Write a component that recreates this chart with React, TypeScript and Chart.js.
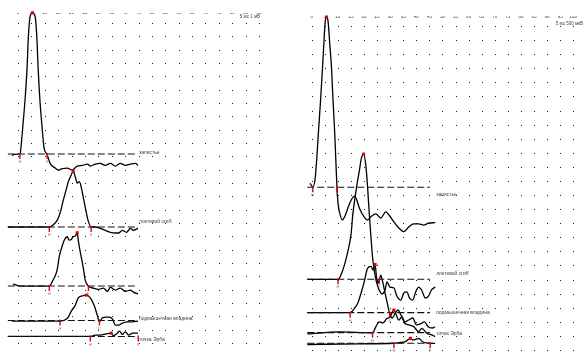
import React, { useEffect, useRef } from "react";
import { Chart, registerables } from "chart.js";

Chart.register(...registerables);

// ---------------- data ----------------
// x: latency in ms, a: amplitude in screen divisions relative to the trace baseline
const leftTickMax = 90;
const rightTickMax = 100;
const leftSweepText = "5 мс 1 мВ";
const rightSweepText = "5 мс 500 мкВ";

const siteLabels = ["запястье", "локтевой сгиб", "подмышечная впадина", "точка Эрба"];

// Left panel traces
const L1_t = [-3.8, -2.3, 0, 0.8, 1.1, 1.9, 2.6, 3.4, 3.8, 4.5, 5.4, 6.4, 7.1, 7.5, 8.2, 9.0, 9.7, 10.9, 12.0, 13.9, 15.0, 16.5, 18.4, 20.2, 22.1, 24.0, 25.9, 27.0, 28.9, 30.7, 32.6, 34.5, 36.4, 38.2, 40.1, 42.0, 43.9, 44.8];
const L1_a = [-0.8, -0.1, 0, 0.05, 0.5, 2.3, 4.0, 6.5, 8.5, 10.3, 10.6, 10.3, 8.5, 6.5, 4.0, 2.0, 0.5, -0.05, -0.7, -1.05, -1.2, -1.1, -1.05, -1.2, -0.9, -0.85, -0.75, -0.9, -0.75, -0.7, -0.85, -0.7, -0.9, -0.7, -0.85, -0.75, -0.7, -0.85];
const L2_t = [-3.8, 11.6, 13.1, 14.6, 15.8, 16.9, 18.0, 18.8, 19.9, 20.6, 21.4, 22.1, 22.9, 23.6, 24.4, 25.5, 26.3, 27.4, 28.9, 30.7, 32.6, 34.5, 36.4, 37.5, 39.0, 40.5, 42.0, 43.1, 44.8];
const L2_a = [0, 0, 0.15, 0.5, 1.1, 2.0, 2.8, 3.4, 3.9, 4.2, 3.75, 3.3, 3.4, 3.0, 2.2, 1.1, 0.4, 0, 0, -0.1, -0.25, -0.4, -0.45, -0.45, -0.25, -0.4, -0.1, -0.25, -0.1];
const L3_t = [-3.8, -1.9, 0.8, 11.6, 13.1, 14.6, 15.4, 16.5, 17.3, 18.4, 19.1, 19.9, 20.6, 21.4, 22.1, 22.5, 23.3, 24.4, 25.1, 26.3, 28.1, 30.0, 31.9, 33.4, 34.5, 36.4, 38.2, 40.1, 42.0, 43.1, 44.8];
const L3_a = [-0.1, 0.15, 0, 0, 0.45, 1.2, 2.2, 3.0, 3.45, 3.7, 3.45, 3.5, 3.7, 3.75, 4.0, 3.45, 2.5, 1.35, 0.45, 0, -0.15, -0.25, -0.15, -0.4, -0.1, -0.3, -0.15, -0.4, -0.3, -0.45, -0.6];
const L4_t = [-3.8, -2.3, 15.8, 17.6, 18.8, 19.9, 21.4, 22.5, 24.0, 25.5, 27.0, 28.5, 29.6, 30.4, 31.5, 33.0, 34.1, 35.3, 36.4, 37.5, 39.0, 40.9, 42.8, 44.8];
const L4_a = [-0.2, -0.05, -0.05, 0.05, 0.25, 0.7, 1.15, 1.7, 1.85, 1.9, 1.7, 1.1, 0.4, -0.1, 0.2, 0.25, 0.25, 0.1, -0.35, -0.35, -0.2, -0.1, -0.1, -0.05];
const L5_t = [-3.8, 27.0, 28.9, 30.7, 33.0, 34.9, 35.6, 37.1, 37.9, 39.0, 40.1, 41.3, 42.8, 44.8];
const L5_a = [0, 0, 0.1, 0.1, 0.2, 0.25, 0.05, 0.25, 0.4, 0.15, 0.35, 0.1, 0.25, 0.25];

const leftOnsets = [0.7, 11.7, 11.7, 15.7, 27.0];
const leftPeakT = [5.4, 20.6, 22.1, 25.5, 34.8];
const leftPeakA = [10.6, 4.2, 4.0, 1.9, 0.25];
const leftEnds = [10.9, 27.3, 26.3, 30.4, 44.9];

// Right panel traces
const R1_t = [-1.7, -0.6, 0.4, 1.25, 1.9, 2.5, 3.4, 4.15, 4.65, 5.15, 5.65, 6.25, 6.9, 7.55, 8.15, 8.8, 9.3, 9.65, 10.05, 10.7, 11.7, 12.6, 13.8, 15.1, 16.35, 17.1, 18.25, 20.1, 21.35, 22.65, 24.5, 26.4, 28.3, 29.55, 31.45, 33.3, 35.2, 37.1, 39.0, 40.9, 42.75, 44.65, 47.2];
const R1_a = [0.64, 0.28, 0.04, 0.52, 1.94, 3.71, 6.2, 8.56, 10.2, 11.73, 12.09, 11.8, 10.2, 8.56, 6.2, 3.85, 1.58, 0.02, -1.11, -1.82, -2.32, -2.09, -1.49, -0.9, -0.62, -0.83, -1.49, -2.11, -2.32, -2.09, -1.89, -2.18, -1.75, -1.97, -2.46, -2.89, -3.15, -2.82, -2.6, -2.6, -2.68, -2.55, -2.51];
const R2_t = [-1.7, 10.05, 11.9, 13.8, 15.1, 15.7, 17.0, 18.25, 19.0, 19.85, 20.75, 21.35, 22.0, 22.65, 23.25, 23.9, 24.65, 25.8, 26.9, 28.05, 28.8, 29.9, 31.45, 32.55, 34.1, 35.2, 36.35, 37.45, 38.6, 39.75, 40.9, 42.0, 43.5, 44.65, 45.8, 47.2];
const R2_a = [0, 0, 0.66, 1.96, 3.28, 4.57, 6.34, 7.75, 8.6, 8.89, 8.0, 6.58, 4.7, 3.02, 1.6, 0.66, -0.12, -0.76, -1.04, -0.76, -0.19, -0.55, -0.62, -1.19, -1.48, -0.97, -0.9, -1.33, -1.48, -0.9, -0.55, -0.76, -1.33, -1.19, -0.76, -0.55];
const R3_t = [-1.7, 14.7, 16.35, 17.6, 18.85, 20.1, 21.35, 22.65, 23.5, 24.25, 24.75, 25.3, 25.8, 26.4, 27.0, 28.05, 28.9, 29.8, 30.8, 31.8, 32.95, 34.1, 35.6, 37.1, 38.6, 40.1, 41.6, 43.1, 44.65, 46.15, 47.2];
const R3_a = [0, 0, 0.31, 0.67, 1.38, 2.2, 3.15, 3.28, 3.02, 3.42, 2.55, 2.08, 2.3, 2.66, 2.3, 1.38, 0.67, -0.04, -0.38, -0.09, 0.19, -0.16, -0.66, -0.52, -0.38, -0.87, -0.8, -0.66, -1.02, -1.09, -1.0];
const R4_t = [-1.7, 10.7, 23.25, 24.55, 25.8, 27.3, 28.55, 29.9, 31.45, 32.2, 33.3, 34.55, 35.6, 37.1, 39.0, 40.9, 42.1, 44.0, 45.9, 47.2];
const R4_a = [-0.09, 0.05, -0.02, 0.43, 0.76, 0.69, 0.97, 1.11, 1.61, 1.33, 0.9, 1.14, 0.67, 0.55, 0.43, 0.07, 0.31, -0.04, -0.16, -0.28];
const R5_t = [-1.7, 18.25, 31.45, 33.3, 35.85, 37.75, 38.6, 39.75, 40.9, 42.4, 43.9, 45.3, 47.2];
const R5_a = [-0.09, -0.04, 0, 0.04, 0.11, 0.35, 0.23, 0.27, 0.35, 0.11, 0.02, 0, -0.01];

const rightOnsets = [0.4, 10.05, 14.7, 23.25, 31.45];
const rightPeakT = [5.65, 19.85, 24.25, 31.45, 37.75];
const rightPeakA = [12.09, 8.89, 3.42, 1.61, 0.35];
const rightEnds = [9.65, 25.8, 29.8, null, 45.3];

// ---------------- layout ----------------
type PanelDef = {
  traces: { t: number[]; a: number[] }[];
  baseRows: number[];
  dashFrom: number;
  dashTo: number;
  onsets: number[];
  peakT: number[];
  peakA: number[];
  ends: (number | null)[];
  labelTrace: number[];
  labelDy: number[];
  labelAt: number;
  xMax: number;
  rows: number;
  pad: { left: number; right: number; top: number; bottom: number };
  tickPad: number;
  sweepText: string;
  sweepX: number;
  sweepY: number;
};

const leftPanel: PanelDef = {
  traces: [
    { t: L1_t, a: L1_a },
    { t: L2_t, a: L2_a },
    { t: L3_t, a: L3_a },
    { t: L4_t, a: L4_a },
    { t: L5_t, a: L5_a },
  ],
  baseRows: [9.83, 15.3, 19.73, 22.31, 23.51],
  dashFrom: -3.8,
  dashTo: 44.8,
  onsets: leftOnsets,
  peakT: leftPeakT,
  peakA: leftPeakA,
  ends: leftEnds,
  labelTrace: [0, 1, 3, 4],
  labelDy: [-1.5, -5, -1.5, 3],
  labelAt: 44.8,
  xMax: leftTickMax,
  rows: 24,
  pad: { left: 18, right: 41, top: 13, bottom: 20 },
  tickPad: 8,
  sweepText: leftSweepText,
  sweepX: 260,
  sweepY: 17,
};

const rightPanel: PanelDef = {
  traces: [
    { t: R1_t, a: R1_a },
    { t: R2_t, a: R2_a },
    { t: R3_t, a: R3_a },
    { t: R4_t, a: R4_a },
    { t: R5_t, a: R5_a },
  ],
  baseRows: [11.45, 17.98, 20.35, 21.77, 22.52],
  dashFrom: -1.7,
  dashTo: 45.2,
  onsets: rightOnsets,
  peakT: rightPeakT,
  peakA: rightPeakA,
  ends: rightEnds,
  labelTrace: [0, 1, 2, 3],
  labelDy: [7.7, -5.3, 0, 0.6],
  labelAt: 47.2,
  xMax: rightTickMax,
  rows: 23,
  pad: { left: 11.7, right: 7.3, top: 16, bottom: 13 },
  tickPad: 7,
  sweepText: rightSweepText,
  sweepX: 283,
  sweepY: 24,
};

const FONT = '"Liberation Sans", Arial, sans-serif';

function buildConfig(p: PanelDef): any {
  const datasets: any[] = [];
  p.traces.forEach((tr, i) => {
    const base = -p.baseRows[i];
    datasets.push({
      data: [
        { x: p.dashFrom, y: base },
        { x: p.dashTo, y: base },
      ],
      borderColor: "#111",
      borderWidth: 1.1,
      borderDash: [7, 3],
      pointRadius: 0,
      clip: false,
    });
    datasets.push({
      data: tr.t.map((x, k) => ({ x, y: base + tr.a[k] })),
      borderColor: "#000",
      borderWidth: 1.3,
      pointRadius: 0,
      cubicInterpolationMode: "monotone",
      clip: false,
    });
  });

  const decor = {
    id: "decor",
    beforeDatasetsDraw(chart: any) {
      const { ctx } = chart;
      const xs = chart.scales.x;
      const ys = chart.scales.y;
      ctx.save();
      ctx.fillStyle = "#1a1a1a";
      for (let v = 0; v <= p.xMax; v += 5) {
        const px = Math.round(xs.getPixelForValue(v));
        for (let r = -p.rows; r <= 0; r++) {
          const py = Math.round(ys.getPixelForValue(r));
          ctx.fillRect(px, py, 1, 1);
        }
      }
      ctx.restore();
    },
    afterDatasetsDraw(chart: any) {
      const { ctx } = chart;
      const xs = chart.scales.x;
      const ys = chart.scales.y;
      ctx.save();
      // markers
      p.traces.forEach((_, i) => {
        const base = -p.baseRows[i];
        const by = ys.getPixelForValue(base);
        const tickAt = (t: number, letter: string) => {
          const px = xs.getPixelForValue(t);
          ctx.strokeStyle = "#e00000";
          ctx.lineWidth = 1.4;
          ctx.beginPath();
          ctx.moveTo(px, by - 1);
          ctx.lineTo(px, by + 5);
          ctx.stroke();
          ctx.fillStyle = "#777";
          ctx.font = `4px ${FONT}`;
          ctx.textAlign = "center";
          ctx.textBaseline = "middle";
          ctx.fillText(letter, px, by + 8);
        };
        tickAt(p.onsets[i], "Н");
        const e = p.ends[i];
        if (e !== null && e !== undefined) tickAt(e, "К");
        const ppx = xs.getPixelForValue(p.peakT[i]);
        const ppy = ys.getPixelForValue(base + p.peakA[i]);
        ctx.fillStyle = "#e00000";
        ctx.fillRect(ppx - 1.5, ppy - 1.5, 3, 3);
      });
      // site labels
      ctx.fillStyle = "#444";
      ctx.font = `5px ${FONT}`;
      ctx.textAlign = "left";
      ctx.textBaseline = "middle";
      p.labelTrace.forEach((ti, k) => {
        const px = xs.getPixelForValue(p.labelAt) + 1;
        const py = ys.getPixelForValue(-p.baseRows[ti]) + p.labelDy[k];
        ctx.fillText(siteLabels[k], px, py);
      });
      // sweep / gain text
      ctx.fillStyle = "#444";
      ctx.font = `4.5px ${FONT}`;
      ctx.textAlign = "right";
      ctx.fillText(p.sweepText, p.sweepX, p.sweepY);
      ctx.restore();
    },
  };

  return {
    type: "line",
    data: { datasets },
    options: {
      animation: false,
      responsive: false,
      devicePixelRatio: 1,
      layout: { padding: p.pad },
      plugins: { legend: { display: false }, tooltip: { enabled: false } },
      scales: {
        x: {
          type: "linear",
          position: "top",
          min: 0,
          max: p.xMax,
          grid: { display: false, drawTicks: false },
          border: { display: false },
          ticks: {
            stepSize: 5,
            autoSkip: false,
            maxRotation: 0,
            padding: p.tickPad,
            color: "#444",
            font: { size: 4.5, family: FONT },
          },
          afterFit: (s: any) => {
            s.height = 10;
          },
        },
        y: { type: "linear", display: false, min: -p.rows, max: 0 },
      },
    },
    plugins: [decor],
  };
}

export default function App() {
  const leftRef = useRef<HTMLCanvasElement | null>(null);
  const rightRef = useRef<HTMLCanvasElement | null>(null);

  useEffect(() => {
    const c1 = new Chart(leftRef.current as HTMLCanvasElement, buildConfig(leftPanel));
    const c2 = new Chart(rightRef.current as HTMLCanvasElement, buildConfig(rightPanel));
    return () => {
      c1.destroy();
      c2.destroy();
    };
  }, []);

  return (
    <div style={{ position: "absolute", left: 0, top: 0, width: 584, height: 363, background: "#fff", overflow: "hidden" }}>
      <canvas ref={leftRef} width={300} height={363} style={{ position: "absolute", left: 0, top: 0, width: 300, height: 363 }} />
      <canvas ref={rightRef} width={284} height={363} style={{ position: "absolute", left: 300, top: 0, width: 284, height: 363 }} />
    </div>
  );
}
